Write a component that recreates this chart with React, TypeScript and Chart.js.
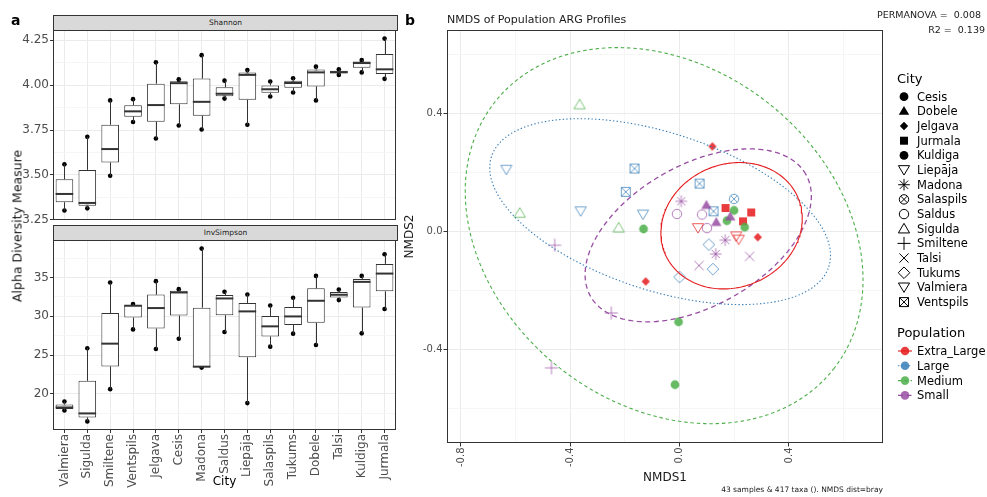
import React, { useEffect, useRef } from 'react';
import { Chart, registerables } from 'chart.js';

Chart.register(...registerables);

const FONT = "'DejaVu Sans', sans-serif";

// ---------- Panel a data ----------
const cities = ['Valmiera', 'Sigulda', 'Smiltene', 'Ventspils', 'Jelgava', 'Cesis', 'Madona', 'Saldus', 'Liepāja', 'Salaspils', 'Tukums', 'Dobele', 'Talsi', 'Kuldiga', 'Jurmala'];

const shannonSamples: number[][] = [
  [3.302, 3.394, 3.559],
  [3.314, 3.344, 3.712],
  [3.495, 3.644, 3.915],
  [3.795, 3.854, 3.922],
  [3.703, 3.889, 4.127],
  [3.775, 4.011, 4.033],
  [3.753, 3.907, 4.167],
  [3.925, 3.952, 4.025],
  [3.779, 4.057, 4.084],
  [3.937, 3.977, 4.020],
  [3.959, 4.012, 4.038],
  [3.915, 4.071, 4.103],
  [4.057, 4.088],
  [4.071, 4.123, 4.140],
  [4.035, 4.088, 4.259],
];

const invSimpsonSamples: number[][] = [
  [17.85, 18.24, 19.0],
  [16.44, 17.47, 25.87],
  [20.6, 26.47, 34.36],
  [28.31, 31.36, 31.57],
  [25.78, 31.06, 34.53],
  [27.11, 33.07, 33.5],
  [23.38, 23.5, 38.73],
  [27.97, 32.3, 33.16],
  [18.8, 30.63, 32.81],
  [26.08, 28.7, 31.4],
  [27.76, 29.98, 32.39],
  [26.3, 32.0, 35.21],
  [32.09, 33.46],
  [27.8, 34.44, 35.21],
  [30.93, 35.51, 38.0],
];

const shannonTicks = [3.25, 3.5, 3.75, 4.0, 4.25];
const invSimpsonTicks = [20, 25, 30, 35];

// ---------- Panel b data ----------
const legendCities = ['Cesis', 'Dobele', 'Jelgava', 'Jurmala', 'Kuldiga', 'Liepāja', 'Madona', 'Salaspils', 'Saldus', 'Sigulda', 'Smiltene', 'Talsi', 'Tukums', 'Valmiera', 'Ventspils'];
const cityShapes = ['circleFilled', 'triangleFilled', 'diamondFilled', 'squareFilled', 'circleFilled', 'triDownOpen', 'asterisk', 'circleX', 'circleOpen', 'triUpOpen', 'plus', 'cross', 'diamondOpen', 'triDownOpen', 'squareX'];
const cityPopulation = ['Medium', 'Small', 'Extra_Large', 'Extra_Large', 'Medium', 'Extra_Large', 'Small', 'Large', 'Small', 'Medium', 'Small', 'Small', 'Large', 'Large', 'Large'];
const populations = ['Extra_Large', 'Large', 'Medium', 'Small'];
const popColors = ['#E41A1C', '#377EB8', '#4DAF4A', '#984EA3'];

const nmdsCity = [
  'Sigulda', 'Valmiera', 'Ventspils', 'Ventspils', 'Sigulda', 'Valmiera', 'Valmiera', 'Sigulda', 'Cesis', 'Smiltene',
  'Madona', 'Saldus', 'Jelgava', 'Tukums', 'Smiltene', 'Kuldiga', 'Smiltene', 'Cesis', 'Ventspils', 'Salaspils',
  'Dobele', 'Saldus', 'Ventspils', 'Jurmala', 'Kuldiga', 'Jurmala', 'Dobele', 'Dobele', 'Kuldiga', 'Jurmala',
  'Cesis', 'Liepāja', 'Saldus', 'Liepāja', 'Liepāja', 'Jelgava', 'Madona', 'Tukums', 'Madona', 'Talsi',
  'Tukums', 'Talsi', 'Jelgava',
];
const nmdsX = [
  -0.366, -0.634, -0.165, -0.197, -0.585, -0.362, -0.134, -0.223, -0.132, -0.457,
  0.006, -0.010, -0.124, 0.000, -0.250, -0.004, -0.469, -0.017, 0.073, 0.199,
  0.098, 0.082, 0.124, 0.168, 0.199, 0.262, 0.185, 0.134, 0.173, 0.232,
  0.238, 0.067, 0.100, 0.207, 0.216, 0.286, 0.167, 0.107, 0.132, 0.071,
  0.122, 0.256, 0.120,
];
const nmdsY = [
  0.430, 0.209, 0.213, 0.134, 0.062, 0.068, 0.057, 0.012, 0.008, -0.047,
  0.102, 0.059, -0.170, -0.155, -0.277, -0.307, -0.463, -0.520, 0.162, 0.110,
  0.088, 0.057, 0.068, 0.079, 0.071, 0.064, 0.049, 0.030, 0.036, 0.034,
  0.014, 0.011, 0.011, -0.017, -0.028, -0.020, -0.030, -0.045, -0.077, -0.116,
  -0.128, -0.085, 0.288,
];
const nmdsTicks = [-0.8, -0.4, 0.0, 0.4];

// ellipse parameters per population (centre, two conjugate semi-axis vectors)
const ellipseCx = [0.190, -0.0713, -0.0567, 0.068];
const ellipseCy = [0.019, 0.0668, -0.0146, -0.0136];
const ellipseUx = [0.2437, 0.6169, 0.6198, 0.3939];
const ellipseUy = [0.0941, -0.1871, -0.4526, 0.2068];
const ellipseVx = [-0.0864, 0.0894, 0.3812, -0.1269];
const ellipseVy = [0.1926, 0.2538, 0.4496, 0.2081];
const ellipseDash: number[][] = [[], [1.4, 2.2], [3.5, 2.8], [5, 3.5]];

// ---------- helpers ----------
function quantile7(a: number[], p: number) {
  const h = (a.length - 1) * p;
  const lo = Math.floor(h);
  const hi = Math.ceil(h);
  return a[lo] + (h - lo) * (a[hi] - a[lo]);
}
function boxStats(samples: number[][]) {
  return samples.map((s) => {
    const a = [...s].sort((x, y) => x - y);
    return { min: a[0], q1: quantile7(a, 0.25), med: quantile7(a, 0.5), q3: quantile7(a, 0.75), max: a[a.length - 1] };
  });
}
function isTick(v: number, arr: number[]) {
  return arr.some((t) => Math.abs(t - v) < 1e-6);
}
function withAlpha(hex: string, a: number) {
  const r = parseInt(hex.slice(1, 3), 16);
  const g = parseInt(hex.slice(3, 5), 16);
  const b = parseInt(hex.slice(5, 7), 16);
  return `rgba(${r},${g},${b},${a})`;
}
function zeroPad(s: any) {
  s.paddingLeft = 0;
  s.paddingRight = 0;
  s.paddingTop = 0;
  s.paddingBottom = 0;
}

function drawShape(ctx: CanvasRenderingContext2D, shape: string, cx: number, cy: number, color: string) {
  ctx.save();
  ctx.translate(cx, cy);
  ctx.fillStyle = color;
  ctx.strokeStyle = color;
  ctx.lineWidth = 1;
  ctx.beginPath();
  switch (shape) {
    case 'circleFilled':
      ctx.arc(0, 0, 4.4, 0, Math.PI * 2);
      ctx.fill();
      break;
    case 'triangleFilled':
      ctx.moveTo(0, -5.4);
      ctx.lineTo(5.2, 3.4);
      ctx.lineTo(-5.2, 3.4);
      ctx.closePath();
      ctx.fill();
      break;
    case 'diamondFilled':
      ctx.moveTo(0, -4.2);
      ctx.lineTo(4.2, 0);
      ctx.lineTo(0, 4.2);
      ctx.lineTo(-4.2, 0);
      ctx.closePath();
      ctx.fill();
      break;
    case 'squareFilled':
      ctx.rect(-4, -4, 8, 8);
      ctx.fill();
      break;
    case 'triDownOpen':
      ctx.moveTo(0, 5.0);
      ctx.lineTo(5.6, -4.4);
      ctx.lineTo(-5.6, -4.4);
      ctx.closePath();
      ctx.stroke();
      break;
    case 'triUpOpen':
      ctx.moveTo(0, -5.4);
      ctx.lineTo(5.6, 4.2);
      ctx.lineTo(-5.6, 4.2);
      ctx.closePath();
      ctx.stroke();
      break;
    case 'circleOpen':
      ctx.arc(0, 0, 4.7, 0, Math.PI * 2);
      ctx.stroke();
      break;
    case 'circleX':
      ctx.arc(0, 0, 4.7, 0, Math.PI * 2);
      ctx.moveTo(-3.3, -3.3);
      ctx.lineTo(3.3, 3.3);
      ctx.moveTo(3.3, -3.3);
      ctx.lineTo(-3.3, 3.3);
      ctx.stroke();
      break;
    case 'squareX':
      ctx.rect(-4.5, -4.5, 9, 9);
      ctx.moveTo(-4.5, -4.5);
      ctx.lineTo(4.5, 4.5);
      ctx.moveTo(4.5, -4.5);
      ctx.lineTo(-4.5, 4.5);
      ctx.stroke();
      break;
    case 'plus':
      ctx.moveTo(-6.5, 0);
      ctx.lineTo(6.5, 0);
      ctx.moveTo(0, -6.5);
      ctx.lineTo(0, 6.5);
      ctx.stroke();
      break;
    case 'cross':
      ctx.moveTo(-4.6, -4.6);
      ctx.lineTo(4.6, 4.6);
      ctx.moveTo(4.6, -4.6);
      ctx.lineTo(-4.6, 4.6);
      ctx.stroke();
      break;
    case 'asterisk':
      ctx.moveTo(-5.8, 0);
      ctx.lineTo(5.8, 0);
      ctx.moveTo(0, -5.8);
      ctx.lineTo(0, 5.8);
      ctx.moveTo(-4.1, -4.1);
      ctx.lineTo(4.1, 4.1);
      ctx.moveTo(4.1, -4.1);
      ctx.lineTo(-4.1, 4.1);
      ctx.stroke();
      break;
    case 'diamondOpen':
      ctx.moveTo(0, -5.8);
      ctx.lineTo(5.8, 0);
      ctx.lineTo(0, 5.8);
      ctx.lineTo(-5.8, 0);
      ctx.closePath();
      ctx.stroke();
      break;
    default:
      break;
  }
  ctx.restore();
}

function makeMarkerCanvas(shape: string, color: string) {
  const c = document.createElement('canvas');
  c.width = 18;
  c.height = 18;
  const g = c.getContext('2d')!;
  drawShape(g, shape, 9, 9, color);
  return c;
}

const panelBorder = {
  id: 'panelBorder',
  afterDraw(chart: any) {
    const { ctx, chartArea } = chart;
    ctx.save();
    ctx.strokeStyle = '#333333';
    ctx.lineWidth = 1;
    const l = Math.round(chartArea.left) + 0.5;
    const t = Math.round(chartArea.top) + 0.5;
    const r = Math.round(chartArea.right) - 0.5;
    const b = Math.round(chartArea.bottom) - 0.5;
    ctx.strokeRect(l, t, r - l, b - t);
    ctx.restore();
  },
};

function makeBoxChart(
  canvas: HTMLCanvasElement,
  samples: number[][],
  o: { min: number; max: number; step: number; ticks: number[]; digits: number; showX: boolean; xHeight: number }
) {
  const stats = boxStats(samples);
  const pts: { x: string; y: number }[] = [];
  samples.forEach((s, i) => s.forEach((v) => pts.push({ x: cities[i], y: v })));

  // whiskers and medians drawn over the sample points and boxes (boxplot layer above the points layer)
  const whiskers = {
    id: 'whiskers',
    afterDatasetsDraw(chart: any) {
      const { ctx } = chart;
      const y = chart.scales.y;
      const meta = chart.getDatasetMeta(0);
      ctx.save();
      ctx.strokeStyle = '#333333';
      ctx.lineWidth = 1;
      stats.forEach((s, i) => {
        const bar = meta.data[i];
        const cx = Math.round(bar.x) + 0.5;
        ctx.beginPath();
        ctx.moveTo(cx, y.getPixelForValue(s.q3));
        ctx.lineTo(cx, y.getPixelForValue(s.max));
        ctx.moveTo(cx, y.getPixelForValue(s.q1));
        ctx.lineTo(cx, y.getPixelForValue(s.min));
        ctx.stroke();
      });
      ctx.lineWidth = 2;
      stats.forEach((s, i) => {
        const bar = meta.data[i];
        const hw = bar.width / 2;
        const py = y.getPixelForValue(s.med);
        ctx.beginPath();
        ctx.moveTo(bar.x - hw, py);
        ctx.lineTo(bar.x + hw, py);
        ctx.stroke();
      });
      ctx.restore();
    },
  };

  return new Chart(canvas, {
    type: 'bar',
    data: {
      labels: cities,
      datasets: [
        {
          type: 'bar',
          label: 'box',
          data: stats.map((s) => [s.q1, s.q3]) as any,
          backgroundColor: '#ffffff',
          borderColor: '#333333',
          borderWidth: 1,
          borderSkipped: false,
          barPercentage: 0.77,
          categoryPercentage: 1,
          order: 1,
        } as any,
        {
          type: 'line',
          label: 'samples',
          data: pts as any,
          showLine: false,
          pointRadius: 2.3,
          pointBackgroundColor: '#000000',
          pointBorderWidth: 0,
          order: 2,
        } as any,
      ],
    },
    options: {
      responsive: false,
      animation: false,
      devicePixelRatio: 1,
      events: [],
      layout: { padding: { top: 8, right: 3, left: 0, bottom: 0 } },
      plugins: { legend: { display: false }, tooltip: { enabled: false } },
      scales: {
        x: {
          offset: true,
          grid: {
            offset: false,
            color: '#EBEBEB',
            drawTicks: o.showX,
            tickLength: 3,
            tickColor: '#333333',
          },
          border: { display: false },
          ticks: {
            display: o.showX,
            autoSkip: false,
            minRotation: 90,
            maxRotation: 90,
            padding: 1,
            color: '#4D4D4D',
            font: { size: 12, family: FONT },
          },
          title: {
            display: o.showX,
            text: 'City',
            color: '#000000',
            font: { size: 12, family: FONT },
            padding: { top: 0, bottom: 8 },
          },
          afterFit: (s: any) => {
            s.height = o.xHeight;
            zeroPad(s);
          },
        },
        y: {
          type: 'linear',
          min: o.min,
          max: o.max,
          border: { display: false },
          grid: {
            color: (c: any) => (c.tick && isTick(c.tick.value, o.ticks) ? '#EBEBEB' : '#F4F4F4'),
            lineWidth: (c: any) => (c.tick && isTick(c.tick.value, o.ticks) ? 1 : 0.8),
            tickLength: 3,
            tickColor: (c: any) => (c.tick && isTick(c.tick.value, o.ticks) ? '#333333' : 'rgba(0,0,0,0)'),
          },
          ticks: {
            stepSize: o.step,
            autoSkip: false,
            includeBounds: false,
            padding: 1,
            color: '#4D4D4D',
            font: { size: 12, family: FONT },
            callback: (v: any) => (isTick(Number(v), o.ticks) ? Number(v).toFixed(o.digits) : ''),
          },
          afterFit: (s: any) => {
            s.width = 53;
            zeroPad(s);
          },
        },
      },
    } as any,
    plugins: [whiskers, panelBorder],
  });
}

function fmtNmds(v: number) {
  if (Math.abs(v) < 1e-9) return '0.0';
  return v.toFixed(1);
}

function makeNmdsChart(canvas: HTMLCanvasElement) {
  const cityDatasets = legendCities.map((city, ci) => {
    const col = popColors[populations.indexOf(cityPopulation[ci])];
    const shape = cityShapes[ci];
    const filled = shape.endsWith('Filled');
    const img = makeMarkerCanvas(shape, withAlpha(col, filled ? 0.85 : 0.72));
    const data: { x: number; y: number }[] = [];
    nmdsCity.forEach((c, i) => {
      if (c === city) data.push({ x: nmdsX[i], y: nmdsY[i] });
    });
    return {
      type: 'scatter',
      label: city,
      data,
      pointStyle: img,
      pointRadius: 5,
      showLine: false,
      order: 2,
    };
  });
  const ellipseDatasets = populations.map((p, k) => {
    const data: { x: number; y: number }[] = [];
    const n = 200;
    for (let j = 0; j <= n; j++) {
      const t = (j / n) * Math.PI * 2;
      data.push({
        x: ellipseCx[k] + ellipseUx[k] * Math.cos(t) + ellipseVx[k] * Math.sin(t),
        y: ellipseCy[k] + ellipseUy[k] * Math.cos(t) + ellipseVy[k] * Math.sin(t),
      });
    }
    return {
      type: 'scatter',
      label: p,
      data,
      showLine: true,
      pointRadius: 0,
      borderColor: popColors[k],
      borderWidth: k === 3 ? 1.3 : 1.1,
      borderDash: ellipseDash[k],
      fill: false,
      tension: 0,
      order: 1,
    };
  });

  const majorX = (c: any) => c.tick && isTick(c.tick.value, nmdsTicks);

  return new Chart(canvas, {
    type: 'scatter',
    data: { datasets: [...ellipseDatasets, ...cityDatasets] as any },
    options: {
      responsive: false,
      animation: false,
      devicePixelRatio: 1,
      events: [],
      layout: { padding: { top: 8, right: 7, left: 0, bottom: 0 } },
      plugins: { legend: { display: false }, tooltip: { enabled: false } },
      scales: {
        x: {
          type: 'linear',
          min: -0.851,
          max: 0.744,
          border: { display: false },
          grid: {
            color: (c: any) => (majorX(c) ? '#EBEBEB' : '#F4F4F4'),
            lineWidth: (c: any) => (majorX(c) ? 1 : 0.8),
            tickLength: 3.5,
            tickColor: (c: any) => (majorX(c) ? '#333333' : 'rgba(0,0,0,0)'),
          },
          ticks: {
            stepSize: 0.2,
            autoSkip: false,
            includeBounds: false,
            minRotation: 90,
            maxRotation: 90,
            padding: 1,
            color: '#4D4D4D',
            font: { size: 10, family: FONT },
            callback: (v: any) => (isTick(Number(v), nmdsTicks) ? fmtNmds(Number(v)) : ''),
          },
          title: {
            display: true,
            text: 'NMDS1',
            color: '#1A1A1A',
            font: { size: 12, family: FONT },
            padding: { top: 0, bottom: 12 },
          },
          afterFit: (s: any) => {
            s.height = 54;
            zeroPad(s);
          },
        },
        y: {
          type: 'linear',
          min: -0.718,
          max: 0.683,
          border: { display: false },
          grid: {
            color: (c: any) => (majorX(c) ? '#EBEBEB' : '#F4F4F4'),
            lineWidth: (c: any) => (majorX(c) ? 1 : 0.8),
            tickLength: 3.5,
            tickColor: (c: any) => (majorX(c) ? '#333333' : 'rgba(0,0,0,0)'),
          },
          ticks: {
            stepSize: 0.2,
            autoSkip: false,
            includeBounds: false,
            padding: 1,
            color: '#4D4D4D',
            font: { size: 10, family: FONT },
            callback: (v: any) => (isTick(Number(v), nmdsTicks) ? fmtNmds(Number(v)) : ''),
          },
          title: {
            display: true,
            text: 'NMDS2',
            color: '#1A1A1A',
            font: { size: 12, family: FONT },
            padding: { top: 3, bottom: 0 },
          },
          afterFit: (s: any) => {
            s.width = 47;
            zeroPad(s);
          },
        },
      },
    } as any,
    plugins: [panelBorder],
  });
}

// legend layout
const LEG_LEFT = 890;
const LEG_TOP = 84;
const cityRowY = (i: number) => 96.7 + i * 14.67;
const popRowY = (i: number) => 351 + i * 14.8;

function drawLegend(canvas: HTMLCanvasElement) {
  const ctx = canvas.getContext('2d')!;
  ctx.clearRect(0, 0, canvas.width, canvas.height);
  legendCities.forEach((_, i) => {
    drawShape(ctx, cityShapes[i], 904 - LEG_LEFT, cityRowY(i) - LEG_TOP, '#000000');
  });
  populations.forEach((_, k) => {
    const cy = popRowY(k) - LEG_TOP;
    const cx = 905 - LEG_LEFT;
    ctx.save();
    ctx.strokeStyle = popColors[k];
    ctx.lineWidth = 1.1;
    ctx.setLineDash(ellipseDash[k]);
    ctx.beginPath();
    ctx.moveTo(cx - 7, cy);
    ctx.lineTo(cx + 7, cy);
    ctx.stroke();
    ctx.setLineDash([]);
    ctx.fillStyle = withAlpha(popColors[k], 0.85);
    ctx.beginPath();
    ctx.arc(cx, cy, 4.3, 0, Math.PI * 2);
    ctx.fill();
    ctx.restore();
  });
}

const abs = (s: React.CSSProperties): React.CSSProperties => ({ position: 'absolute', whiteSpace: 'pre', fontFamily: FONT, ...s });

export default function App() {
  const shRef = useRef<HTMLCanvasElement>(null);
  const isRef = useRef<HTMLCanvasElement>(null);
  const nmRef = useRef<HTMLCanvasElement>(null);
  const lgRef = useRef<HTMLCanvasElement>(null);

  useEffect(() => {
    Chart.defaults.font.family = FONT;
    const charts: Chart[] = [];
    charts.push(
      makeBoxChart(shRef.current!, shannonSamples, {
        min: 3.249,
        max: 4.307,
        step: 0.125,
        ticks: shannonTicks,
        digits: 2,
        showX: false,
        xHeight: 10,
      })
    );
    charts.push(
      makeBoxChart(isRef.current!, invSimpsonSamples, {
        min: 15.33,
        max: 39.84,
        step: 2.5,
        ticks: invSimpsonTicks,
        digits: 0,
        showX: true,
        xHeight: 67,
      })
    );
    charts.push(makeNmdsChart(nmRef.current!));
    drawLegend(lgRef.current!);
    return () => charts.forEach((c) => c.destroy());
  }, []);

  const stripStyle = (top: number): React.CSSProperties =>
    abs({
      left: 53,
      top,
      width: 345,
      height: 16,
      boxSizing: 'border-box',
      background: '#D9D9D9',
      border: '1px solid #333333',
      fontSize: 7.5,
      lineHeight: '14px',
      textAlign: 'center',
      color: '#1A1A1A',
    });

  return (
    <div style={{ position: 'fixed', left: 0, top: 0, width: 987, height: 497, background: '#ffffff', overflow: 'hidden' }}>
      <canvas ref={shRef} width={400} height={208} style={{ position: 'absolute', left: 0, top: 22, width: 400, height: 208 }} />
      <canvas ref={isRef} width={400} height={265} style={{ position: 'absolute', left: 0, top: 232, width: 400, height: 265 }} />
      <canvas ref={nmRef} width={490} height={475} style={{ position: 'absolute', left: 400, top: 22, width: 490, height: 475 }} />
      <canvas ref={lgRef} width={30} height={325} style={{ position: 'absolute', left: LEG_LEFT, top: LEG_TOP, width: 30, height: 325 }} />

      <div style={stripStyle(15)}>Shannon</div>
      <div style={stripStyle(225)}>InvSimpson</div>

      <div style={abs({ left: 11, top: 13, fontSize: 14, lineHeight: '14px', fontWeight: 'bold', color: '#000' })}>a</div>
      <div style={abs({ left: 405, top: 13, fontSize: 14, lineHeight: '14px', fontWeight: 'bold', color: '#000' })}>b</div>

      <div
        style={abs({
          left: 17,
          top: 226,
          fontSize: 12.5,
          lineHeight: '13px',
          color: '#1A1A1A',
          transform: 'translate(-50%, -50%) rotate(-90deg)',
        })}
      >
        Alpha Diversity Measure
      </div>

      <div style={abs({ left: 447, top: 14, fontSize: 11, lineHeight: '11px', color: '#1A1A1A' })}>NMDS of Population ARG Profiles</div>
      <div style={abs({ right: 6, top: 10, fontSize: 9.5, lineHeight: '10px', color: '#1A1A1A', textAlign: 'right' })}>PERMANOVA =  0.008</div>
      <div style={abs({ right: 2, top: 25, fontSize: 9.5, lineHeight: '10px', color: '#1A1A1A', textAlign: 'right' })}>R2 =  0.139</div>
      <div style={abs({ right: 987 - 883, top: 486, fontSize: 7.5, lineHeight: '8px', color: '#1A1A1A', textAlign: 'right' })}>
        43 samples &amp; 417 taxa (). NMDS dist=bray
      </div>

      <div style={abs({ left: 897, top: 72, fontSize: 13, lineHeight: '14px', color: '#000' })}>City</div>
      {legendCities.map((c, i) => (
        <div key={c} style={abs({ left: 917, top: cityRowY(i) - 7, fontSize: 11.5, lineHeight: '14px', color: '#000' })}>
          {c}
        </div>
      ))}
      <div style={abs({ left: 897, top: 326, fontSize: 13, lineHeight: '14px', color: '#000' })}>Population</div>
      {populations.map((p, k) => (
        <div key={p} style={abs({ left: 917, top: popRowY(k) - 7, fontSize: 11.5, lineHeight: '14px', color: '#000' })}>
          {p}
        </div>
      ))}
    </div>
  );
}
